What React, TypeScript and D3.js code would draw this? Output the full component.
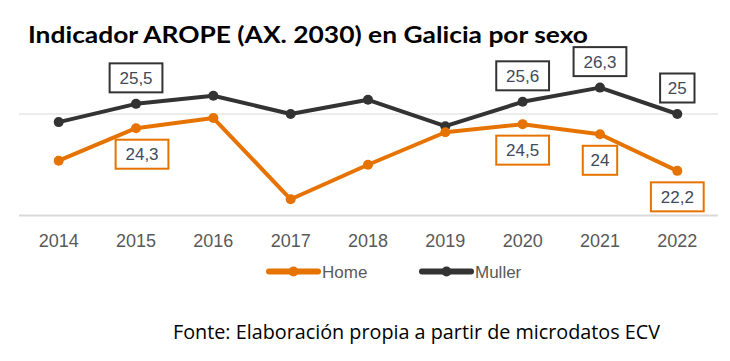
import React from "react";
import * as d3 from "d3";

const years = ["2014", "2015", "2016", "2017", "2018", "2019", "2020", "2021", "2022"];
const homeValues = [22.7, 24.3, 24.8, 20.8, 22.5, 24.1, 24.5, 24.0, 22.2];
const mullerValues = [24.6, 25.5, 25.9, 25.0, 25.7, 24.4, 25.6, 26.3, 25.0];
const homeLabelled = ["2015", "2020", "2021", "2022"];
const mullerLabelled = ["2015", "2020", "2021", "2022"];
const gridValues = [25];
const seriesNames = ["Home", "Muller"];

const W = 730;
const H = 361;
const ORANGE = "#e67300";
const DARK = "#333333";
const LABEL_TEXT = "#404a5a";
const AXIS_TEXT = "#595959";

const x = d3.scalePoint<string>().domain(years).range([58.7, 677.3]);
const y = d3.scaleLinear().domain([20, 25]).range([215.5, 114]);

const fmt = (v: number) => String(v).replace(".", ",");

function Series({ values, color, labelled, above, nudge }: { values: number[]; color: string; labelled: string[]; above: boolean; nudge: Record<string, number> }) {
  const line = d3
    .line<number>()
    .x((_, i) => x(years[i]) as number)
    .y((d) => y(d));
  return (
    <g>
      <path d={line(values) || ""} fill="none" stroke={color} strokeWidth={4} strokeLinejoin="round" />
      {values.map((v, i) => (
        <circle key={i} cx={x(years[i])} cy={y(v)} r={5} fill={color} />
      ))}
      {values.map((v, i) => {
        if (!labelled.includes(years[i])) return null;
        const t = fmt(v);
        const w = t.length * 9.2 + 16;
        const cx = (x(years[i]) as number) + (nudge[years[i]] || 0);
        const cy = y(v) + (above ? -26 : 26);
        return (
          <g key={"l" + i}>
            <rect x={cx - w / 2} y={cy - 14.5} width={w} height={29} fill="#ffffff" stroke={color} strokeWidth={2} />
            <text x={cx} y={cy + 6} textAnchor="middle" fontSize={17} fontFamily="Liberation Sans, Arial, sans-serif" fill={LABEL_TEXT}>
              {t}
            </text>
          </g>
        );
      })}
    </g>
  );
}

export default function App() {
  const legendX = [269, 422];
  return (
    <svg width={W} height={H} style={{ position: "absolute", left: 0, top: 0, background: "#ffffff" }}>
      <rect width={W} height={H} fill="#ffffff" />
      <text x={28} y={43} fontSize={23.5} fontWeight="bold" fontFamily="Lato, sans-serif" fill="#000000" textLength={560} lengthAdjust="spacingAndGlyphs">
        Indicador AROPE (AX. 2030) en Galicia por sexo
      </text>
      {gridValues.map((g) => (
        <line key={g} x1={19} x2={718} y1={y(g)} y2={y(g)} stroke="#d9d9d9" strokeWidth={1} />
      ))}
      <line x1={19} x2={718} y1={y(20)} y2={y(20)} stroke="#d9d9d9" strokeWidth={2} />
      {years.map((yr) => (
        <text key={yr} x={x(yr)} y={247} textAnchor="middle" fontSize={18} fontFamily="Liberation Sans, Arial, sans-serif" fill={AXIS_TEXT}>
          {yr}
        </text>
      ))}
      <Series values={mullerValues} color={DARK} labelled={mullerLabelled} above={true} nudge={{}} />
      <Series values={homeValues} color={ORANGE} labelled={homeLabelled} above={false} nudge={{ "2015": 6 }} />
      {seriesNames.map((n, i) => {
        const c = i === 0 ? ORANGE : DARK;
        const lx = legendX[i];
        return (
          <g key={n}>
            <line x1={lx} x2={lx + 49} y1={271.5} y2={271.5} stroke={c} strokeWidth={6} strokeLinecap="round" />
            <circle cx={lx + 24.5} cy={271.5} r={5} fill={c} />
            <text x={lx + 53} y={277.5} fontSize={17} fontFamily="Liberation Sans, Arial, sans-serif" fill={AXIS_TEXT}>
              {n}
            </text>
          </g>
        );
      })}
      <text x={173} y={339} fontSize={19.5} fontFamily="Open Sans, sans-serif" fill="#000000" textLength={487} lengthAdjust="spacingAndGlyphs">
        Fonte: Elaboración propia a partir de microdatos ECV
      </text>
    </svg>
  );
}
